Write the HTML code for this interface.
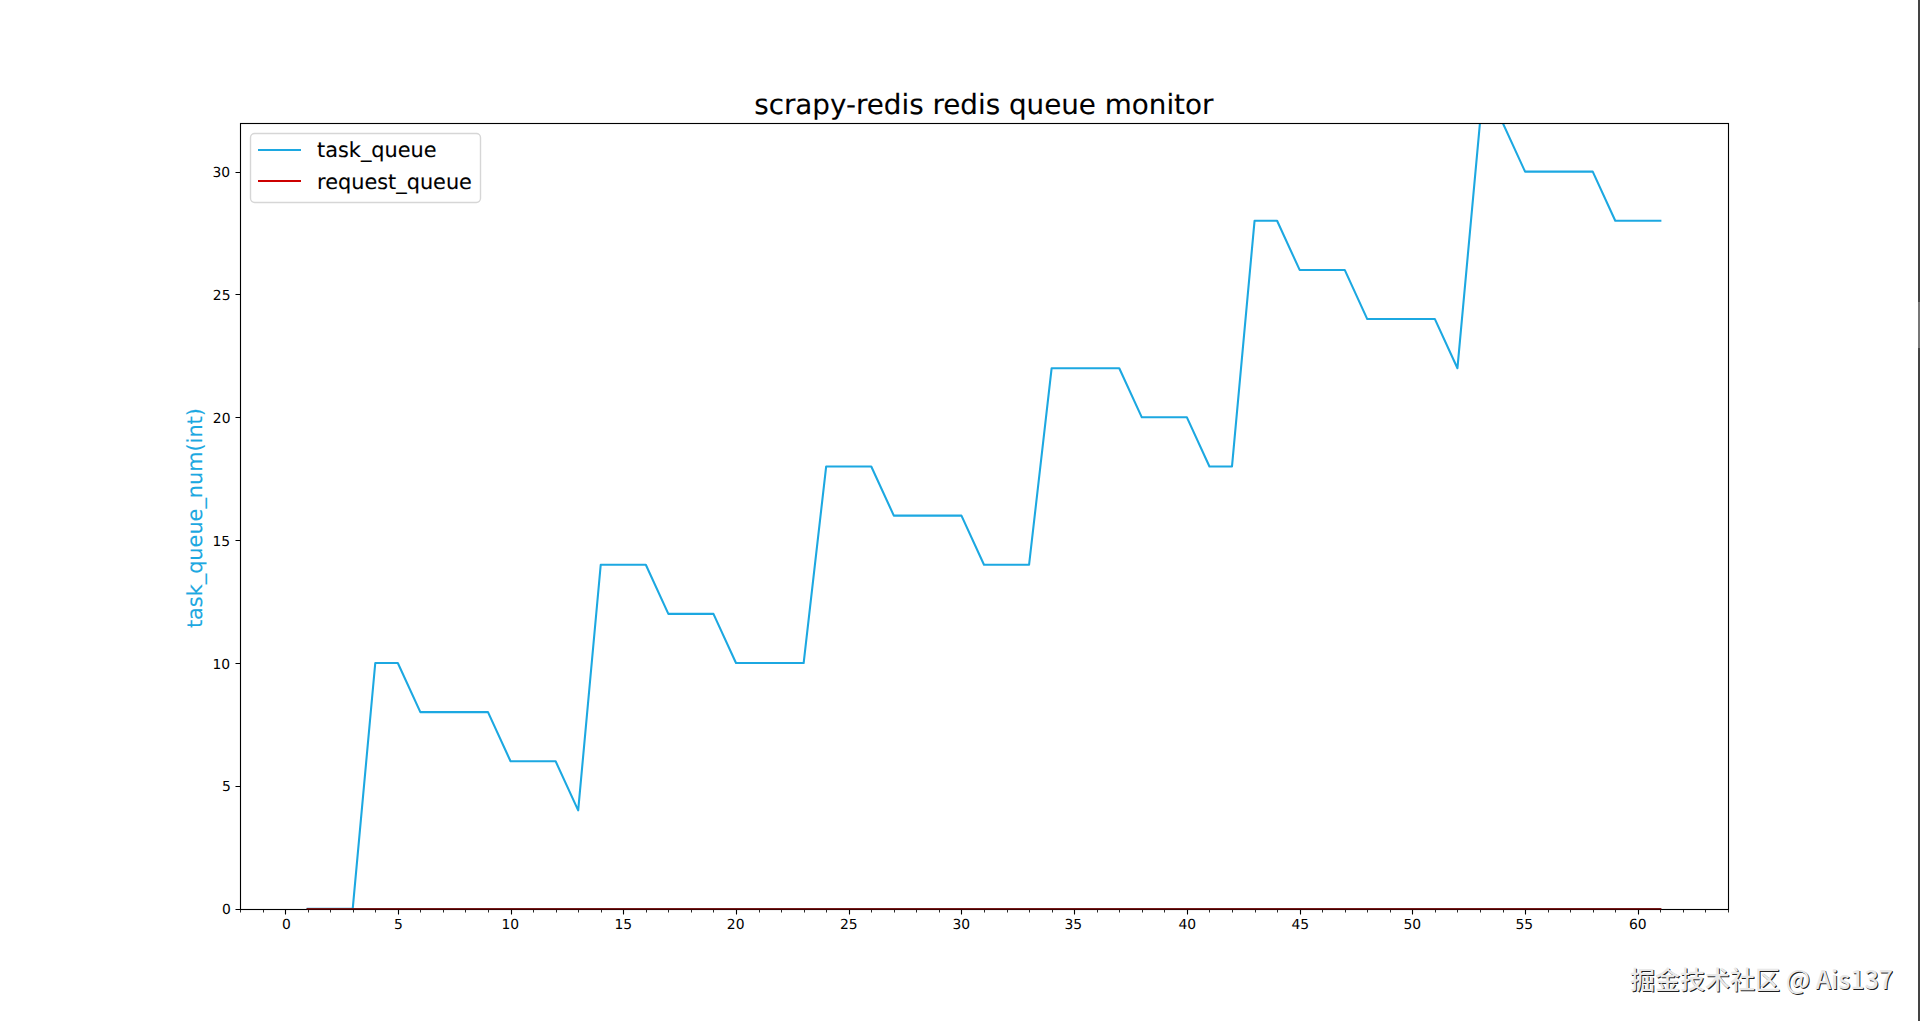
<!DOCTYPE html>
<html lang="zh-CN">
<head>
<meta charset="utf-8">
<title>scrapy-redis redis queue monitor</title>
<style>
html,body{margin:0;padding:0;background:#fff;overflow:hidden}
#stage{position:relative;width:1920px;height:1021px;overflow:hidden;background:#fff}
#chart{position:absolute;left:0;top:0;display:block}
#chart text{font-family:"DejaVu Sans","Liberation Sans",sans-serif;fill:#000;text-rendering:geometricPrecision}
.wm{position:absolute;white-space:nowrap;font-family:"Noto Sans CJK SC","Liberation Sans",sans-serif;font-weight:500;color:#e9e9e9;text-shadow:1px 1px .6px rgba(0,0,0,.9);line-height:1}
.edge{position:absolute;right:0;top:0;width:2px;height:1021px;background:#444}
.edge i{position:absolute;left:0;top:302px;width:2px;height:46px;background:#777;display:block}
</style>
</head>
<body>
<div id="stage">
<svg id="chart" width="1920" height="1021" viewBox="0 0 1920 1021">
<rect x="0" y="0" width="1920" height="1021" fill="#fff"/>
<defs><clipPath id="axclip"><rect x="240" y="123" width="1488" height="786"/></clipPath></defs>
<g clip-path="url(#axclip)" fill="none" stroke-width="2.083" stroke-linejoin="round" stroke-linecap="square">
<polyline points="307.64,908.69 330.18,908.69 352.73,908.69 375.27,663.01 397.82,663.01 420.36,712.15 442.91,712.15 465.45,712.15 488,712.15 510.55,761.28 533.09,761.28 555.64,761.28 578.18,810.42 600.73,564.74 623.27,564.74 645.82,564.74 668.36,613.88 690.91,613.88 713.45,613.88 736,663.01 758.55,663.01 781.09,663.01 803.64,663.01 826.18,466.47 848.73,466.47 871.27,466.47 893.82,515.61 916.36,515.61 938.91,515.61 961.45,515.61 984,564.74 1006.55,564.74 1029.09,564.74 1051.64,368.2 1074.18,368.2 1096.73,368.2 1119.27,368.2 1141.82,417.33 1164.36,417.33 1186.91,417.33 1209.45,466.47 1232,466.47 1254.55,220.79 1277.09,220.79 1299.64,269.93 1322.18,269.93 1344.73,269.93 1367.27,319.06 1389.82,319.06 1412.36,319.06 1434.91,319.06 1457.45,368.2 1480,122.52 1502.55,122.52 1525.09,171.66 1547.64,171.66 1570.18,171.66 1592.73,171.66 1615.27,220.79 1637.82,220.79 1660.36,220.79" stroke="#1CA8E1"/>
<line x1="307.64" y1="909" x2="1660.36" y2="909" stroke="#7A1A1A"/>
</g>
<g stroke="#000" stroke-width="1.111" fill="none">
<path d="M285.5 909.5V914.5M398.5 909.5V914.5M511.5 909.5V914.5M623.5 909.5V914.5M736.5 909.5V914.5M849.5 909.5V914.5M961.5 909.5V914.5M1074.5 909.5V914.5M1187.5 909.5V914.5M1300.5 909.5V914.5M1412.5 909.5V914.5M1525.5 909.5V914.5M1638.5 909.5V914.5"/>
<path d="M240.5 909.5V912.5M263.5 909.5V912.5M308.5 909.5V912.5M330.5 909.5V912.5M353.5 909.5V912.5M375.5 909.5V912.5M420.5 909.5V912.5M443.5 909.5V912.5M465.5 909.5V912.5M488.5 909.5V912.5M533.5 909.5V912.5M556.5 909.5V912.5M578.5 909.5V912.5M601.5 909.5V912.5M646.5 909.5V912.5M668.5 909.5V912.5M691.5 909.5V912.5M713.5 909.5V912.5M759.5 909.5V912.5M781.5 909.5V912.5M804.5 909.5V912.5M826.5 909.5V912.5M871.5 909.5V912.5M894.5 909.5V912.5M916.5 909.5V912.5M939.5 909.5V912.5M984.5 909.5V912.5M1007.5 909.5V912.5M1029.5 909.5V912.5M1052.5 909.5V912.5M1097.5 909.5V912.5M1119.5 909.5V912.5M1142.5 909.5V912.5M1164.5 909.5V912.5M1209.5 909.5V912.5M1232.5 909.5V912.5M1255.5 909.5V912.5M1277.5 909.5V912.5M1322.5 909.5V912.5M1345.5 909.5V912.5M1367.5 909.5V912.5M1390.5 909.5V912.5M1435.5 909.5V912.5M1457.5 909.5V912.5M1480.5 909.5V912.5M1503.5 909.5V912.5M1548.5 909.5V912.5M1570.5 909.5V912.5M1593.5 909.5V912.5M1615.5 909.5V912.5M1660.5 909.5V912.5M1683.5 909.5V912.5M1705.5 909.5V912.5M1728.5 909.5V912.5" stroke-width="0.833"/>
<path d="M240.5 909.5H235.5M240.5 786.5H235.5M240.5 663.5H235.5M240.5 540.5H235.5M240.5 417.5H235.5M240.5 294.5H235.5M240.5 172.5H235.5"/>
<rect x="240.5" y="123.5" width="1488" height="786" stroke-linejoin="miter"/>
<line x1="306.6" y1="909.5" x2="1661.4" y2="909.5" stroke="#400000" stroke-width="1"/>
</g>
<g font-size="13.89" text-anchor="middle">
<text x="286.29" y="929">0</text>
<text x="398.32" y="929">5</text>
<text x="510.35" y="929">10</text>
<text x="623.37" y="929">15</text>
<text x="735.7" y="929">20</text>
<text x="848.73" y="929">25</text>
<text x="961.35" y="929">30</text>
<text x="1073.38" y="929">35</text>
<text x="1187.21" y="929">40</text>
<text x="1300.34" y="929">45</text>
<text x="1412.36" y="929">50</text>
<text x="1524.34" y="929">55</text>
<text x="1637.82" y="929">60</text>
</g>
<g font-size="13.89" text-anchor="end">
<text x="230.75" y="914">0</text>
<text x="230.8" y="791">5</text>
<text x="230.1" y="669">10</text>
<text x="230.15" y="546">15</text>
<text x="230.5" y="423">20</text>
<text x="230.5" y="300">25</text>
<text x="230.05" y="177">30</text>
</g>
<text x="983.8" y="114" font-size="27.78" text-anchor="middle" stroke="#000" stroke-width="0.1">scrapy-redis redis queue monitor</text>
<text transform="translate(201.8 518.1) rotate(-90)" font-size="20.83" text-anchor="middle" style="fill:#1CA8E1" stroke="#1CA8E1" stroke-width="0.1">task_queue_num(int)</text>
<rect x="250.5" y="133.5" width="230" height="69" rx="4.17" ry="4.17" fill="#fff" fill-opacity="0.8" stroke="#ccc" stroke-opacity="0.8" stroke-width="1.389"/>
<g stroke-width="2.083" stroke-linecap="butt"><line x1="258" y1="150" x2="301" y2="150" stroke="#1CA8E1"/><line x1="258" y1="181" x2="301" y2="181" stroke="#CD0000"/></g>
<g font-size="20.83" stroke="#000" stroke-width="0.1"><text x="317.1" y="157">task_queue</text><text x="317.1" y="189">request_queue</text></g>
</svg>
<div class="wm" style="left:1630px;top:966px;font-size:25px">掘金技术社区 @ Ais137</div>
<div class="edge"><i></i></div>
</div>
</body>
</html>
